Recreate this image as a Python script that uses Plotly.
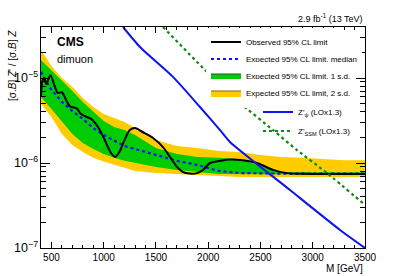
import plotly.graph_objects as go

# ---------------- data ----------------
mass = [400, 500, 600, 700, 800, 900, 1000, 1100, 1200, 1300, 1500, 1700,
        1900, 2100, 2300, 2500, 2700, 2900, 3100, 3300, 3500]
exp_median = [1.18e-5, 7.23e-6, 5.23e-6, 4.09e-6, 3.30e-6, 2.58e-6, 2.13e-6,
              1.82e-6, 1.58e-6, 1.46e-6, 1.24e-6, 1.06e-6, 9.46e-7, 8.06e-7,
              7.62e-7, 7.5e-7, 7.5e-7, 7.5e-7, 7.5e-7, 7.5e-7, 7.5e-7]
exp_1sd_hi = [1.63e-5, 1.24e-5, 9.35e-6, 7.03e-6, 5.23e-6, 4.09e-6, 3.12e-6,
              2.66e-6, 2.44e-6, 2.13e-6, 1.50e-6, 1.28e-6, 1.18e-6, 1.15e-6,
              1.11e-6, 9.22e-7, 7.83e-7, 7.8e-7, 7.8e-7, 7.8e-7, 7.8e-7]
exp_1sd_lo = [5.97e-6, 4.31e-6, 3.12e-6, 2.19e-6, 1.72e-6, 1.46e-6, 1.28e-6,
              1.15e-6, 1.06e-6, 1.0e-6, 8.97e-7, 8.28e-7, 7.83e-7, 7.43e-7,
              7.3e-7, 7.3e-7, 7.3e-7, 7.3e-7, 7.3e-7, 7.3e-7, 7.3e-7]
exp_2sd_hi = [2.13e-5, 1.38e-5, 1.0e-5, 7.83e-6, 5.82e-6, 4.56e-6, 3.77e-6,
              3.38e-6, 3.03e-6, 2.58e-6, 1.87e-6, 1.58e-6, 1.50e-6, 1.38e-6,
              1.35e-6, 1.24e-6, 1.18e-6, 1.15e-6, 1.11e-6, 1.08e-6, 1.08e-6]
exp_2sd_lo = [4.94e-6, 3.48e-6, 2.19e-6, 1.63e-6, 1.35e-6, 1.15e-6, 1.04e-6,
              9.46e-7, 8.73e-7, 8.06e-7, 7.62e-7, 7.43e-7, 7.23e-7, 7.03e-7,
              6.84e-7, 6.84e-7, 6.84e-7, 6.84e-7, 6.84e-7, 6.84e-7, 6.84e-7]

obs_mass = [400, 415, 430, 450, 490, 530, 560, 600, 640, 680, 740, 780, 830,
            880, 950, 1010, 1070, 1110, 1150, 1200, 1250, 1300, 1376, 1472,
            1567, 1634, 1701, 1759, 1820, 1893, 1950, 2017, 2113, 2200, 2333,
            2467, 2620, 2754, 2900, 3500]
obs_limit = [5.97e-6, 9.46e-6, 1.0e-5, 8.5e-6, 1.08e-5, 8.05e-6, 6.67e-6,
             6.8e-6, 5.5e-6, 4.6e-6, 4.4e-6, 3.8e-6, 3.5e-6, 3.3e-6, 2.6e-6,
             1.87e-6, 1.31e-6, 1.18e-6, 1.35e-6, 1.87e-6, 2.44e-6, 2.58e-6,
             2.3e-6, 1.97e-6, 1.54e-6, 1.18e-6, 9.0e-7, 7.8e-7, 7.5e-7,
             7.6e-7, 8.3e-7, 1.0e-6, 1.06e-6, 1.1e-6, 1.08e-6, 1.0e-6,
             8.3e-7, 7.6e-7, 7.45e-7, 7.4e-7]

psi_mass = [1185, 1347, 1663, 1921, 2113, 2208, 2782, 3261, 3500]
psi_xs = [3.98e-5, 2.32e-5, 1.03e-5, 4.56e-6, 2.44e-6, 1.77e-6, 4.81e-7,
          1.63e-7, 1.0e-7]

ssm_mass = [1567, 2065, 2304, 2620, 2849, 3136, 3500]
ssm_xs = [3.98e-5, 9.46e-6, 5.08e-6, 2.44e-6, 1.42e-6, 7.62e-7, 3.21e-7]

# ---------------- figure ----------------
FONT = "Liberation Sans, Arial, sans-serif"
YELLOW = "#FFCC00"
GREEN = "#00CC00"

fig = go.Figure()

fig.add_trace(go.Scatter(
    x=mass + mass[::-1], y=exp_2sd_hi + exp_2sd_lo[::-1],
    fill="toself", fillcolor=YELLOW, line=dict(width=0),
    mode="lines", showlegend=False, hoverinfo="skip"))
fig.add_trace(go.Scatter(
    x=mass + mass[::-1], y=exp_1sd_hi + exp_1sd_lo[::-1],
    fill="toself", fillcolor=GREEN, line=dict(width=0),
    mode="lines", showlegend=False, hoverinfo="skip"))
fig.add_trace(go.Scatter(
    x=mass, y=exp_median, mode="lines",
    line=dict(color="#1010FF", width=2.2, dash="dot"),
    name="Expected 95% CL limit, median", legend="legend2"))
fig.add_trace(go.Scatter(
    x=obs_mass, y=obs_limit, mode="lines",
    line=dict(color="black", width=2, shape="spline", smoothing=0.8),
    name="Observed 95% CL limit", legend="legend"))
fig.add_trace(go.Scatter(
    x=psi_mass, y=psi_xs, mode="lines",
    line=dict(color="#0A14F0", width=2, shape="spline", smoothing=0.6),
    name="Z'<sub>ψ</sub> (LOx1.3)", legend="legend5"))
fig.add_trace(go.Scatter(
    x=ssm_mass, y=ssm_xs, mode="lines",
    line=dict(color="#118811", width=2.2, dash="dot", shape="spline", smoothing=0.6),
    name="Z'<sub>SSM</sub> (LOx1.3)", legend="legend6"))
fig.add_trace(go.Scatter(
    x=[None], y=[None], fill="toself", fillcolor=GREEN, mode="lines",
    line=dict(color="#225522", width=1),
    name="Expected 95% CL limit, 1 s.d.", legend="legend3"))
fig.add_trace(go.Scatter(
    x=[None], y=[None], fill="toself", fillcolor=YELLOW, mode="lines",
    line=dict(color="#886600", width=1),
    name="Expected 95% CL limit, 2 s.d.", legend="legend4"))

L, R, T, B = 41, 365, 27, 248
PW, PH = R - L, B - T


def px(xp):
    return (xp - L) / PW


def py(yp):
    return (B - yp) / PH


def leg(xtext, ycen, bg):
    return dict(x=px(xtext - 40), y=py(ycen), xanchor="left", yanchor="middle",
                bgcolor=bg, borderwidth=0, itemwidth=30,
                font=dict(family=FONT, size=8, color="black"),
                tracegroupgap=0)


fig.update_layout(
    width=407, height=276,
    margin=dict(l=L, r=407 - R, t=T, b=276 - B),
    paper_bgcolor="white", plot_bgcolor="white",
    font=dict(family=FONT, color="black"),
    legend=leg(246, 42, "white"),
    legend2=leg(246, 59, "white"),
    legend3=leg(246, 76, "white"),
    legend4=leg(246, 93, "white"),
    legend5=leg(298, 112, "rgba(0,0,0,0)"),
    legend6=leg(298, 131, "rgba(0,0,0,0)"),
    xaxis=dict(
        range=[400, 3500], dtick=500, ticks="inside", ticklen=6,
        tickcolor="black", linecolor="black", linewidth=1, mirror="ticks",
        showgrid=False, zeroline=False,
        tickfont=dict(family=FONT, size=10),
        minor=dict(dtick=100, ticks="inside", ticklen=3, tickcolor="black"),
    ),
    yaxis=dict(
        type="log", range=[-7, -4.4], dtick=1, ticks="inside", ticklen=9,
        tickcolor="black", linecolor="black", linewidth=1, mirror="ticks",
        showgrid=False, zeroline=False, exponentformat="power",
        tickfont=dict(family=FONT, size=10),
        minor=dict(dtick="D1", ticks="inside", ticklen=5, tickcolor="black"),
    ),
    annotations=[
        dict(text="M [GeV]", x=1, y=py(268), xref="paper", yref="paper",
             xanchor="right", yanchor="middle", showarrow=False,
             font=dict(family=FONT, size=10)),
        dict(text="[σ.<i>B</i>] <i>Z</i>' / [σ.<i>B</i>] <i>Z</i>",
             x=px(12), y=py(66), xref="paper", yref="paper", textangle=-90,
             xanchor="center", yanchor="middle", showarrow=False,
             font=dict(family=FONT, size=10)),
        dict(text="2.9 fb<sup>-1</sup> (13 TeV)", x=1, y=py(18), xref="paper",
             yref="paper", xanchor="right", yanchor="middle", showarrow=False,
             font=dict(family=FONT, size=9)),
        dict(text="<b>CMS</b>", x=px(55), y=py(42), xref="paper", yref="paper",
             xanchor="left", yanchor="middle", showarrow=False,
             font=dict(family=FONT, size=12)),
        dict(text="dimuon", x=px(55), y=py(59), xref="paper", yref="paper",
             xanchor="left", yanchor="middle", showarrow=False,
             font=dict(family=FONT, size=11)),
    ],
)

fig.write_html("out.html", config={"displayModeBar": False},
               post_script="document.body.style.margin='0';document.body.style.padding='0';")
